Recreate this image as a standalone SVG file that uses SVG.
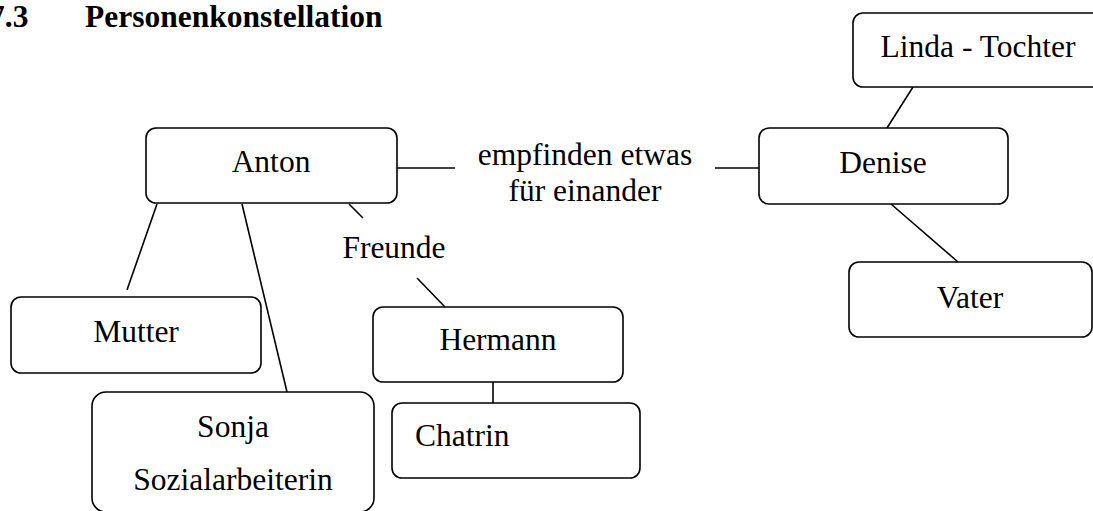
<svg xmlns="http://www.w3.org/2000/svg" width="1093" height="511" viewBox="0 0 1093 511">
<style>
text{font-family:"Liberation Serif","Times New Roman",serif;font-size:31.5px;fill:#000}
.t{font-weight:bold}
.box{fill:#fff;stroke:#000;stroke-width:1.6}
.c line{stroke:#000;stroke-width:1.6}
</style>
<rect width="1093" height="511" fill="#fff"/>
<text class="t" x="-11" y="27">7.3</text>
<text class="t" x="85" y="27">Personenkonstellation</text>
<g class="c" id="connectors">
<line x1="397" y1="168" x2="455" y2="168"/>
<line x1="715" y1="168" x2="759" y2="168"/>
<line x1="913" y1="87" x2="887" y2="128"/>
<line x1="891" y1="204" x2="958" y2="262"/>
<line x1="157" y1="204" x2="127" y2="290"/>
<line x1="242" y1="204" x2="287" y2="392"/>
<line x1="349" y1="204" x2="363" y2="218"/>
<line x1="417" y1="278" x2="445" y2="307"/>
<line x1="493" y1="382" x2="493" y2="403"/>
</g>
<g id="label-einander">
<text x="585" y="165" text-anchor="middle">empfinden etwas</text>
<text x="585" y="201" text-anchor="middle">für einander</text>
</g>
<g id="label-freunde"><text x="394" y="258" text-anchor="middle">Freunde</text></g>
<g id="anton"><rect class="box" x="146" y="128" width="251" height="75" rx="10"/><text x="271" y="172" text-anchor="middle">Anton</text></g>
<g id="denise"><rect class="box" x="759" y="128" width="249" height="76" rx="10"/><text x="883" y="173" text-anchor="middle">Denise</text></g>
<g id="linda"><rect class="box" x="853" y="13" width="252" height="74" rx="10"/><text x="978" y="57" text-anchor="middle">Linda - Tochter</text></g>
<g id="vater"><rect class="box" x="849" y="262" width="243" height="75" rx="10"/><text x="970" y="308" text-anchor="middle">Vater</text></g>
<g id="mutter"><rect class="box" x="11" y="297" width="250" height="76" rx="10"/><text x="136" y="342" text-anchor="middle">Mutter</text></g>
<g id="sonja"><rect class="box" x="92" y="392" width="282" height="120" rx="14"/><text x="233" y="437" text-anchor="middle">Sonja</text><text x="233" y="490" text-anchor="middle">Sozialarbeiterin</text></g>
<g id="hermann"><rect class="box" x="373" y="307" width="250" height="75" rx="10"/><text x="498" y="350" text-anchor="middle">Hermann</text></g>
<g id="chatrin"><rect class="box" x="392" y="403" width="248" height="75" rx="10"/><text x="415" y="446">Chatrin</text></g>
</svg>
